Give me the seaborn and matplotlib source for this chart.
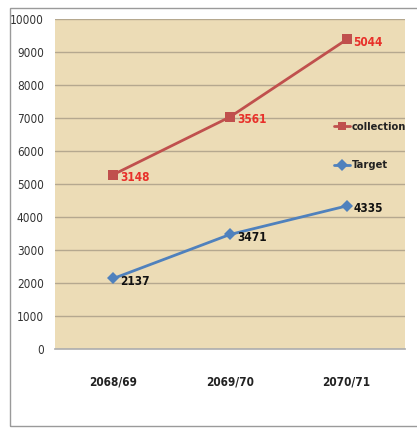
import numpy as np
import pandas as pd
import matplotlib
matplotlib.use("Agg")
import matplotlib.pyplot as plt
import seaborn as sns
from matplotlib.patches import Rectangle

sns.set_theme(style="white")
plt.rcParams['font.family'] = ['DejaVu Sans']
plt.rcParams['font.stretch'] = 'condensed'

# data
years = ["2068/69", "2069/70", "2070/71"]
target = [2137, 3471, 4335]
collection = [3148, 3561, 5044]

# stacked line chart: collection sits on top of target
stacked = np.array(target) + np.array(collection)

df = pd.DataFrame({
    "year": years * 2,
    "value": list(stacked) + list(target),
    "series": ["collection"] * 3 + ["Target"] * 3,
})

fig = plt.figure(figsize=(4.17, 4.28), dpi=100)
fig.patch.set_facecolor("white")
fig.patches.append(Rectangle((10 / 417, 0.005), 1.0, 1 - 8 / 428 - 0.005,
                             transform=fig.transFigure, fill=False,
                             edgecolor="#9a9a9a", linewidth=1.0))

ax = fig.add_axes([55 / 417, 1 - 349 / 428, 350 / 417, 330 / 428])
ax.set_facecolor("#ecdcb6")

palette = {"collection": "#c0504d", "Target": "#4f81bd"}
markers = {"collection": "s", "Target": "D"}
sns.lineplot(data=df, x="year", y="value", hue="series", style="series",
             palette=palette, markers=markers, dashes=False, markersize=6.5,
             linewidth=2, markeredgewidth=0, ax=ax, sort=False)

ax.set_ylim(0, 10000)
ax.set_xlim(-0.5, 2.5)
ax.set_yticks(range(0, 10001, 1000))
ax.yaxis.grid(True, color="#b5a88f", linewidth=1)
ax.set_axisbelow(True)
ax.set_xlabel("")
ax.set_ylabel("")
for s in ["top", "right", "left"]:
    ax.spines[s].set_visible(False)
ax.spines["bottom"].set_color("#b0b0b0")
ax.tick_params(axis="y", labelsize=8.5, colors="#333333", length=0, pad=8)
ax.tick_params(axis="x", labelsize=8.5, colors="#222222", length=0, pad=19)
for lab in ax.get_xticklabels():
    lab.set_fontweight("bold")
ax.set_xticks([0.5, 1.5, 2.5], minor=True)
ax.tick_params(axis="x", which="minor", length=5, color="#b0b0b0", direction="out")

# data labels
for i, (v, lab) in enumerate(zip(stacked, collection)):
    ax.annotate(str(lab), (i, v), xytext=(5, -2), textcoords="offset points",
                color="#e8302a", fontsize=8.5, fontweight="bold", va="center")
for i, v in enumerate(target):
    ax.annotate(str(v), (i, v), xytext=(5, -2), textcoords="offset points",
                color="#111111", fontsize=8.5, fontweight="bold", va="center")

leg = ax.legend(loc="center left", bbox_to_anchor=(0.785, 0.615), frameon=False,
                fontsize=8, labelspacing=2.6, handlelength=1.4, handletextpad=0.2,
                borderaxespad=0, markerscale=0.9)
for t in leg.get_texts():
    t.set_fontweight("bold")
    t.set_color("#222222")

fig.savefig("out.png", dpi=100)
